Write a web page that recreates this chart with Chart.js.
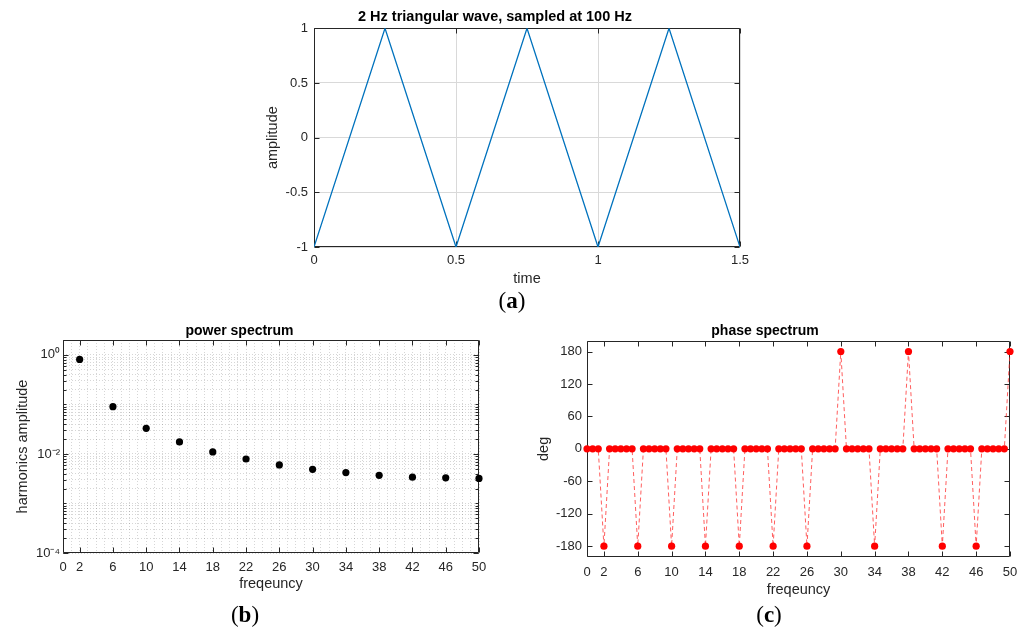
<!DOCTYPE html>
<html>
<head>
<meta charset="utf-8">
<script src="https://cdn.jsdelivr.net/npm/chart.js@4.4.1/dist/chart.umd.min.js"></script>
<style>
  body { margin: 0; background: #fff; width: 1027px; height: 632px; position: relative; overflow: hidden; }
  canvas { position: absolute; }
  .tag { position: absolute; font-family: "Liberation Serif", "DejaVu Serif", serif; font-size: 23px; color: #000; transform: translate(-50%, -50%); white-space: nowrap; }
</style>
</head>
<body>
<canvas id="wave" width="510" height="290" style="left:250px;top:0px"></canvas>
<canvas id="power" width="500" height="290" style="left:0px;top:315px"></canvas>
<canvas id="phase" width="507" height="290" style="left:520px;top:315px"></canvas>
<div class="tag" style="left:512px;top:301px">(<b>a</b>)</div>
<div class="tag" style="left:245px;top:615px">(<b>b</b>)</div>
<div class="tag" style="left:769px;top:615px">(<b>c</b>)</div>

<script>
// 2 Hz triangular wave (corner samples)
var waveTime = [0, 0.25, 0.5, 0.75, 1, 1.25, 1.5]
var waveAmp = [-1, 1, -1, 1, -1, 1, -1]

// odd harmonics of the fundamental
var harmFreq = [2, 6, 10, 14, 18, 22, 26, 30, 34, 38, 42, 46, 50]
var harmAmp = [0.81, 0.09, 0.033, 0.0175, 0.011, 0.0079, 0.006, 0.0049, 0.0042, 0.0037, 0.0034, 0.0033, 0.0032]

// FFT bins, df = 1/1.5 Hz
var binFreq = [
    0, 0.67, 1.33, 2, 2.67, 3.33, 4, 4.67, 5.33, 6, 6.67, 7.33,
    8, 8.67, 9.33, 10, 10.67, 11.33, 12, 12.67, 13.33, 14, 14.67, 15.33,
    16, 16.67, 17.33, 18, 18.67, 19.33, 20, 20.67, 21.33, 22, 22.67, 23.33,
    24, 24.67, 25.33, 26, 26.67, 27.33, 28, 28.67, 29.33, 30, 30.67, 31.33,
    32, 32.67, 33.33, 34, 34.67, 35.33, 36, 36.67, 37.33, 38, 38.67, 39.33,
    40, 40.67, 41.33, 42, 42.67, 43.33, 44, 44.67, 45.33, 46, 46.67, 47.33,
    48, 48.67, 49.33, 50
]
var binPhase = [
    0, 0, 0, -180, 0, 0,
    0, 0, 0, -180, 0, 0,
    0, 0, 0, -180, 0, 0,
    0, 0, 0, -180, 0, 0,
    0, 0, 0, -180, 0, 0,
    0, 0, 0, -180, 0, 0,
    0, 0, 0, -180, 0, 0,
    0, 0, 0, 180, 0, 0,
    0, 0, 0, -180, 0, 0,
    0, 0, 0, 180, 0, 0,
    0, 0, 0, -180, 0, 0,
    0, 0, 0, -180, 0, 0,
    0, 0, 0, 180
]

// tick marks and labels
var timeTicks = [0, 0.5, 1, 1.5]
var ampTicks = [-1, -0.5, 0, 0.5, 1]
var freqTicks = [0, 2, 6, 10, 14, 18, 22, 26, 30, 34, 38, 42, 46, 50]
var phaseTicks = [-180, -120, -60, 0, 60, 120, 180]
var powerTicks = [1e-4, 1e-2, 1]
var powerTickLabels = ['10⁻⁴', '10⁻²', '10⁰']

Chart.defaults.font.family = '"Liberation Sans", Arial, sans-serif'
Chart.defaults.font.size = 13
Chart.defaults.color = '#262626'
Chart.defaults.animation = false
Chart.defaults.events = []
Chart.defaults.plugins.legend.display = false
Chart.defaults.plugins.tooltip.enabled = false

function toPoints(xs, ys) {
    return xs.map(function (x, i) { return { x: x, y: ys[i] } })
}

function fixWidth(w) { return function (scale) { scale.width = w } }
function fixHeight(h) { return function (scale) { scale.height = h } }
function setTicks(values) {
    return function (scale) { scale.ticks = values.map(function (v) { return { value: v } }) }
}

// minor grid lines for the log axis: 1..9 x 10^e
var logGrid = []
for (var e = -4; e <= 0; e++) {
    for (var m = 1; m <= 9; m++) {
        if (m * Math.pow(10, e) <= 2.0001) logGrid.push(m * Math.pow(10, e))
    }
}
var freqGrid = []
for (var f = 0; f <= 50; f++) freqGrid.push(f)

// box around the axes with inward tick marks
var framePlugin = {
    id: 'frame',
    beforeDatasetsDraw: function (chart, args, opts) {
        var a = chart.chartArea, ctx = chart.ctx
        var xs = chart.scales.x, ys = chart.scales.y
        var L = Math.round(a.left) + 0.5, R = Math.round(a.right) - 0.5
        var T = Math.round(a.top) + 0.5, B = Math.round(a.bottom) - 0.5
        var len = opts.len || 5, minorLen = opts.minorLen || 3
        ctx.save()
        ctx.strokeStyle = '#262626'
        ctx.lineWidth = 1
        ctx.beginPath()
        ctx.rect(L, T, R - L, B - T)
        ;(opts.xTicks || []).forEach(function (v) {
            var p = Math.round(xs.getPixelForValue(v)) + 0.5
            ctx.moveTo(p, T); ctx.lineTo(p, T + len)
            ctx.moveTo(p, B); ctx.lineTo(p, B - len)
        })
        ;(opts.yTicks || []).forEach(function (v) {
            var p = Math.round(ys.getPixelForValue(v)) + 0.5
            ctx.moveTo(L, p); ctx.lineTo(L + len, p)
            ctx.moveTo(R, p); ctx.lineTo(R - len, p)
        })
        ;(opts.yMinor || []).forEach(function (v) {
            var p = Math.round(ys.getPixelForValue(v)) + 0.5
            ctx.moveTo(L, p); ctx.lineTo(L + minorLen, p)
            ctx.moveTo(R, p); ctx.lineTo(R - minorLen, p)
        })
        ctx.stroke()
        ctx.restore()
    }
}

function axisTitle(text, pad) {
    return { display: true, text: text, font: { size: 14.5 }, color: '#262626', padding: pad }
}

// (a) the time signal
new Chart(document.getElementById('wave').getContext('2d'), {
    type: 'line',
    data: {
        datasets: [{
            data: toPoints(waveTime, waveAmp),
            borderColor: '#0072bd',
            borderWidth: 1.3,
            pointRadius: 0,
            tension: 0
        }]
    },
    options: {
        responsive: false,
        layout: { padding: { left: 0, right: 20, top: 0, bottom: 0 } },
        plugins: {
            title: {
                display: true, text: '2 Hz triangular wave, sampled at 100 Hz',
                font: { size: 14.5, weight: 'bold' }, color: '#000',
                padding: { top: 8.6, bottom: 2.3 }
            },
            frame: { xTicks: timeTicks, yTicks: ampTicks, len: 5 }
        },
        scales: {
            x: {
                type: 'linear', min: 0, max: 1.5,
                afterBuildTicks: setTicks(timeTicks),
                afterFit: fixHeight(43),
                grid: { color: '#d9d9d9', lineWidth: 1, drawTicks: false },
                border: { display: false },
                ticks: { padding: 6, maxRotation: 0, autoSkip: false, callback: function (v) { return String(v) } },
                title: axisTitle('time', { top: 0, bottom: 2 })
            },
            y: {
                type: 'linear', min: -1, max: 1,
                afterBuildTicks: setTicks(ampTicks),
                afterFit: fixWidth(64),
                grid: { color: '#d9d9d9', lineWidth: 1, drawTicks: false },
                border: { display: false },
                ticks: { padding: 6, callback: function (v) { return String(v) } },
                title: axisTitle('amplitude', { top: 14.6, bottom: 0 })
            }
        }
    },
    plugins: [framePlugin]
})

// (b) harmonic amplitudes on a log axis
new Chart(document.getElementById('power').getContext('2d'), {
    type: 'line',
    data: {
        datasets: [{
            data: toPoints(harmFreq, harmAmp),
            showLine: false,
            pointRadius: 3.6,
            pointBackgroundColor: '#000',
            pointBorderWidth: 0,
            clip: false
        }]
    },
    options: {
        responsive: false,
        layout: { padding: { left: 0, right: 21, top: 0, bottom: 0 } },
        plugins: {
            title: {
                display: true, text: 'power spectrum',
                font: { size: 14, weight: 'bold' }, color: '#000',
                padding: { top: 7.3, bottom: 0.9 }
            },
            frame: { xTicks: freqTicks, yTicks: powerTicks, yMinor: logGrid, len: 5, minorLen: 3 }
        },
        scales: {
            x: {
                type: 'linear', min: 0, max: 50,
                afterBuildTicks: setTicks(freqGrid),
                afterFit: fixHeight(52),
                grid: { color: 'rgba(0,0,0,0.16)', lineWidth: 1, drawTicks: false },
                border: { display: false, dash: [1, 2] },
                ticks: {
                    padding: 7, maxRotation: 0, autoSkip: false,
                    callback: function (v) { return freqTicks.indexOf(v) >= 0 ? String(v) : '' }
                },
                title: axisTitle('freqeuncy', { top: 0, bottom: 12.3 })
            },
            y: {
                type: 'logarithmic', min: 1e-4, max: 2,
                afterBuildTicks: setTicks(logGrid),
                afterFit: fixWidth(63),
                grid: { color: 'rgba(0,0,0,0.16)', lineWidth: 1, drawTicks: false },
                border: { display: false, dash: [1, 2] },
                ticks: {
                    padding: 3, autoSkip: false,
                    callback: function (v) {
                        for (var i = 0; i < powerTicks.length; i++) {
                            if (Math.abs(v - powerTicks[i]) < powerTicks[i] * 1e-6) return powerTickLabels[i]
                        }
                        return ''
                    }
                },
                title: axisTitle('harmonics amplitude', { top: 14.6, bottom: 0 })
            }
        }
    },
    plugins: [framePlugin]
})

// (c) phase of every FFT bin
new Chart(document.getElementById('phase').getContext('2d'), {
    type: 'line',
    data: {
        datasets: [{
            data: toPoints(binFreq, binPhase),
            borderColor: 'rgba(255,40,40,0.75)',
            borderWidth: 1,
            borderDash: [4, 3],
            tension: 0,
            pointRadius: 3.6,
            pointBackgroundColor: '#ff0000',
            pointBorderWidth: 0,
            clip: false
        }]
    },
    options: {
        responsive: false,
        layout: { padding: { left: 0, right: 17, top: 0, bottom: 0 } },
        plugins: {
            title: {
                display: true, text: 'phase spectrum',
                font: { size: 14, weight: 'bold' }, color: '#000',
                padding: { top: 7.3, bottom: 1.6 }
            },
            frame: { xTicks: freqTicks, yTicks: phaseTicks, len: 5 }
        },
        scales: {
            x: {
                type: 'linear', min: 0, max: 50,
                afterBuildTicks: setTicks(freqTicks),
                afterFit: fixHeight(48),
                grid: { display: false, drawTicks: false },
                border: { display: false },
                ticks: { padding: 8, maxRotation: 0, autoSkip: false, callback: function (v) { return String(v) } },
                title: axisTitle('freqeuncy', { top: 0, bottom: 6.3 })
            },
            y: {
                type: 'linear', min: -200, max: 200,
                afterBuildTicks: setTicks(phaseTicks),
                afterFit: fixWidth(67),
                grid: { display: false, drawTicks: false },
                border: { display: false },
                ticks: { padding: 5, callback: function (v) { return String(v) } },
                title: axisTitle('deg', { top: 15.3, bottom: 0 })
            }
        }
    },
    plugins: [framePlugin]
})
</script>
</body>
</html>
